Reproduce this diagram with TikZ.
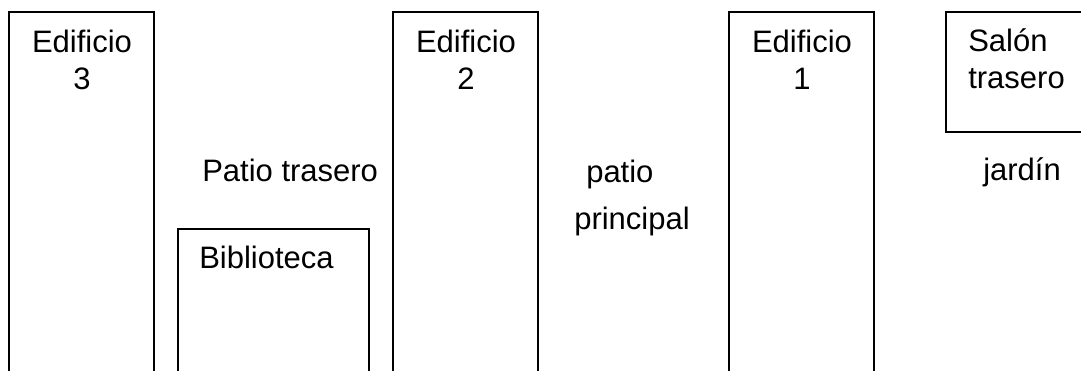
\documentclass[tikz,border=0pt]{standalone}
\usepackage{fontspec}
\setmainfont{Liberation Sans}
\usetikzlibrary{positioning}

\begin{document}
\begin{tikzpicture}[x=0.75pt,y=-0.75pt,
      every node/.style={inner sep=0pt,font=\fontsize{23.25}{27.75}\selectfont},
      wall/.style={draw,line width=1pt},
      label/.style={anchor=base west}]
      \useasboundingbox (0,0) rectangle (1081,371);
      \clip (0,0) rectangle (1081,371);
      % edificios
      \draw[wall] (9,12) rectangle (154,390);
      \draw[wall] (393,12) rectangle (538,390);
      \draw[wall] (729,12) rectangle (874,390);
      \draw[wall] (178,229) rectangle (369,390);
      \draw[wall] (946,12) rectangle (1090,132);
      \node[anchor=base,align=center] (ed3) at (82,89) {Edificio\\3};
      \node[anchor=base,align=center] (ed2) at (466,89) {Edificio\\2};
      \node[anchor=base,align=center] (ed1) at (802,89) {Edificio\\1};
      \node[label,align=left] (salon) at (968,88) {Salón\\trasero};
      \node[label] (biblio) at (199,268) {Biblioteca};
      % patios
      \node[label] (trasero) at (202,181) {Patio trasero};
      \node[label] (patio) at (586,182) {patio};
      \node[label] (principal) at (574,229) {principal};
      \node[label] (jardin) at (983,180) {jardín};
\end{tikzpicture}
\end{document}
